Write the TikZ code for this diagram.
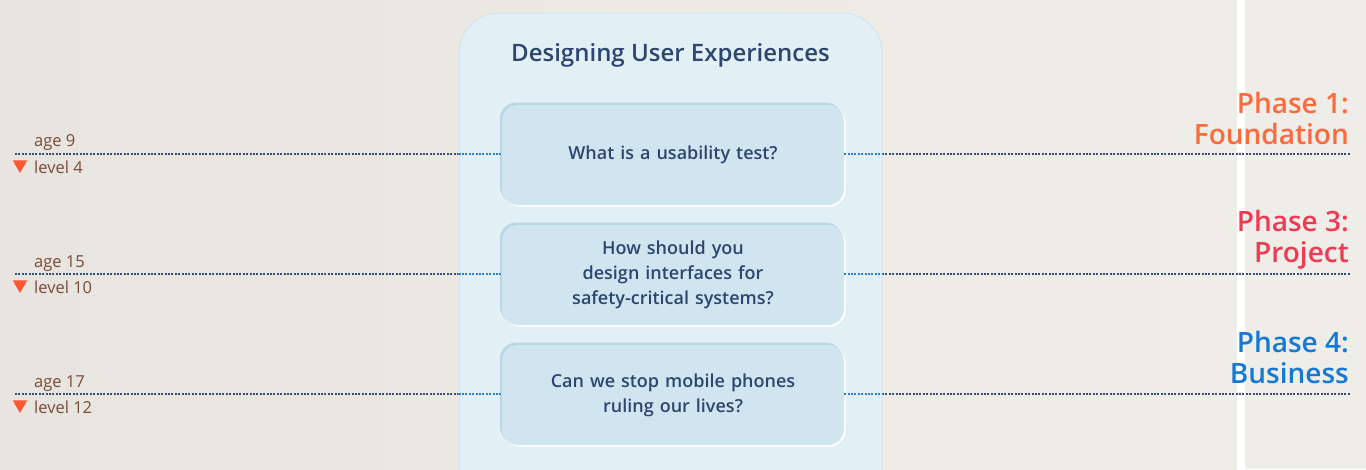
\documentclass[tikz,border=0pt]{standalone}
\usepackage{fontspec}
\setmainfont{Open Sans}
\IfFontExistsTF{Open Sans SemiBold}
  {\newfontfamily\semib{Open Sans SemiBold}}
  {\IfFontExistsTF{Open Sans Semibold}
     {\newfontfamily\semib{Open Sans Semibold}}
     {\newfontfamily\semib{Open Sans}[UprightFont=*, UprightFeatures={FakeBold=1}]\def\fallbackbold{1}}}
\usetikzlibrary{shapes.geometric}
\definecolor{bgL}{HTML}{E8E5E0}
\definecolor{bgR}{HTML}{EFEDE8}
\definecolor{panelfill}{HTML}{E2EFF5}
\definecolor{paneledge}{HTML}{CFE3EC}
\definecolor{cardfill}{HTML}{D0E5F0}
\definecolor{cardedge}{HTML}{B8D8E7}
\definecolor{navytext}{HTML}{2C4670}
\definecolor{navyline}{HTML}{34507A}
\definecolor{blueline}{HTML}{2B80D6}
\definecolor{brown}{HTML}{7B4A35}
\definecolor{tri}{HTML}{FF5733}
\definecolor{ph1}{HTML}{FF6A3D}
\definecolor{ph3}{HTML}{EE3A52}
\definecolor{ph4}{HTML}{1478D4}
\tikzset{
  dotline/.style={line width=1.4pt, dash pattern=on 2pt off 1.4pt},
  outerline/.style={dotline, draw=navyline},
  innerline/.style={dotline, draw=blueline},
  panelbox/.style={rounded corners=40pt, fill=panelfill, draw=paneledge, line width=0.8pt,
    minimum width=423pt, minimum height=507pt, inner sep=0pt},
  cardbox/.style={rounded corners=16pt, fill=cardfill, minimum width=342pt, minimum height=100pt,
    inner sep=0pt, text width=320pt, align=center, text=navytext,
    font=\semib\fontsize{18}{25}\selectfont,
    preaction={fill=white, transform canvas={shift={(1.6pt,-1.6pt)}}},
    preaction={fill=cardedge, transform canvas={shift={(-2pt,2.4pt)}}}},
  titletext/.style={text=navytext, font=\semib\fontsize{24}{28}\selectfont, inner sep=0pt},
  agetext/.style={text=brown, font=\fontsize{16.5}{20}\selectfont, inner sep=0pt, anchor=base west},
  phasetext/.style={font=\semib\fontsize{28}{31}\selectfont, inner sep=0pt, anchor=base east},
  marker/.style={regular polygon, regular polygon sides=3, shape border rotate=180,
    fill=tri, inner sep=0pt, minimum size=17pt}
}
\begin{document}
\begin{tikzpicture}[x=1pt,y=-1pt]
\useasboundingbox (0,0) rectangle (1366,469);
\clip (0,0) rectangle (1366,469);
\shade[left color=bgL, right color=bgR] (0,0) rectangle (1237,469);
\fill[bgR] (1245,0) rectangle (1366,469);
\fill[white] (1237,0) rectangle (1245,469);

% line end points
\coordinate (L1) at (15,154);  \coordinate (R1) at (1350,154);
\coordinate (L2) at (15,274);  \coordinate (R2) at (1350,274);
\coordinate (L3) at (15,394);  \coordinate (R3) at (1350,394);
\draw[outerline] (L1) -- (R1);
\draw[outerline] (L2) -- (R2);
\draw[outerline] (L3) -- (R3);

% panel
\node[panelbox] (panel) at (670.5,266.5) {};
\node[titletext] (title) at (670.5,55) {Designing User Experiences};

% cards
\node[cardbox] (c1) at (673,155) {What is a usability test?};
\node[cardbox] (c2) at (673,275) {How should you\\design interfaces for\\safety-critical systems?};
\node[cardbox] (c3) at (673,395) {Can we stop mobile phones\\ruling our lives?};

% blue segments inside the panel
\draw[innerline] (L1 -| panel.west) -- (L1 -| c1.west);
\draw[innerline] (R1 -| c1.east) -- (R1 -| panel.east);
\draw[innerline] (L2 -| panel.west) -- (L2 -| c2.west);
\draw[innerline] (R2 -| c2.east) -- (R2 -| panel.east);
\draw[innerline] (L3 -| panel.west) -- (L3 -| c3.west);
\draw[innerline] (R3 -| c3.east) -- (R3 -| panel.east);

% left labels
\node[agetext] (a1) at (34,146) {age 9};
\node[agetext] (v1) at (34,173) {level 4};
\node[marker] (m1) at (20,164.5) {};
\node[agetext] (a2) at (34,267) {age 15};
\node[agetext] (v2) at (34,293) {level 10};
\node[marker] (m2) at (20,284.5) {};
\node[agetext] (a3) at (34,387) {age 17};
\node[agetext] (v3) at (34,413) {level 12};
\node[marker] (m3) at (20,404.5) {};

% phase labels
\node[phasetext, text=ph1] (p1a) at (1349,113) {Phase 1:};
\node[phasetext, text=ph1] (p1b) at (1349,144) {Foundation};
\node[phasetext, text=ph3] (p3a) at (1349,231) {Phase 3:};
\node[phasetext, text=ph3] (p3b) at (1349,262) {Project};
\node[phasetext, text=ph4] (p4a) at (1349,352) {Phase 4:};
\node[phasetext, text=ph4] (p4b) at (1349,383) {Business};
\end{tikzpicture}
\end{document}
